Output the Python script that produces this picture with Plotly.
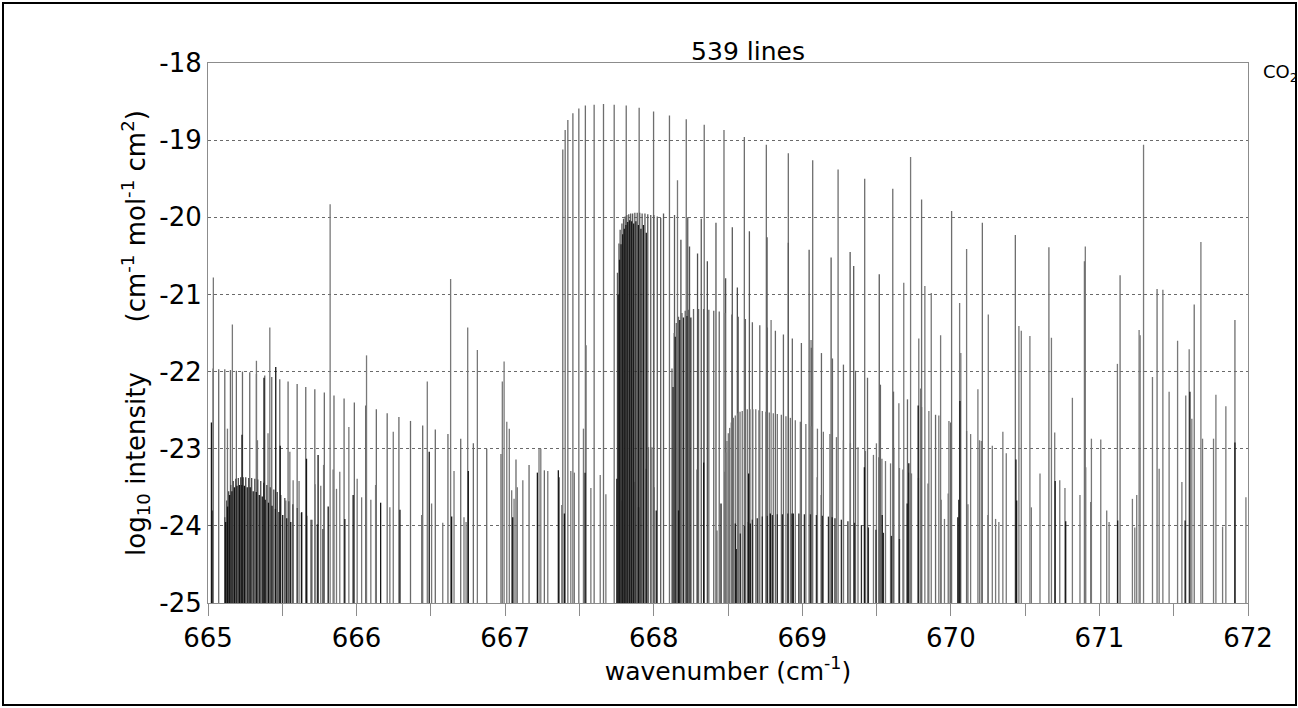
import plotly.graph_objects as go

# ---------------- data: wavenumber (cm-1) and log10 intensity ----------------
main_wn = [667.388, 667.404, 667.422, 667.456, 667.496, 667.540, 667.599, 667.662, 667.734,
           667.815, 667.902, 667.999, 668.106, 668.219, 668.340, 668.473, 668.610, 668.758,
           668.906, 669.070, 669.241, 669.420, 669.609, 669.803, 670.005, 670.212, 670.434,
           670.660, 670.899, 671.139, 671.388, 671.638, 671.912]
main_val = [-19.12, -18.87, -18.74, -18.65, -18.59, -18.55, -18.54, -18.53, -18.54,
            -18.55, -18.58, -18.63, -18.68, -18.73, -18.80, -18.87, -18.96, -19.06,
            -19.17, -19.26, -19.38, -19.50, -19.63, -19.77, -19.92, -20.07, -20.23,
            -20.39, -20.57, -20.75, -20.93, -21.13, -21.33]

b_wn = [667.756, 667.766, 667.774, 667.786, 667.797, 667.808, 667.819, 667.832, 667.845,
        667.858, 667.873, 667.889, 667.906, 667.922, 667.941, 667.960, 667.980, 668.001,
        668.024, 668.047, 668.066, 668.140, 668.229, 668.320, 668.419, 668.529, 668.644,
        668.763, 668.906, 669.046, 669.194, 669.322, 669.346, 669.518]
b_val = [-20.72, -20.34, -20.16, -20.08, -20.02, -19.99, -19.97, -19.96, -19.95,
         -19.95, -19.94, -19.94, -19.94, -19.95, -19.95, -19.96, -19.97, -19.97,
         -19.99, -20.01, -19.95, -19.97, -20.00, -20.02, -20.07, -20.13, -20.18,
         -20.26, -20.33, -20.42, -20.52, -20.45, -20.63, -20.74]

b2_wn = [668.183, 668.241, 668.295, 668.361, 668.484, 668.563]
b2_val = [-20.29, -20.38, -20.47, -20.57, -20.79, -20.91]

bdark_wn = [667.761, 667.770, 667.780, 667.791, 667.802, 667.813, 667.825, 667.838, 667.851,
            667.865, 667.880, 667.897, 667.914, 667.931, 667.950]
bdark_val = [-21.00, -20.55, -20.35, -20.22, -20.15, -20.10, -20.06, -20.04, -20.05,
             -20.08, -20.05, -20.10, -20.15, -20.10, -20.20]

c_wn = [665.034, 665.072, 665.113, 665.151, 665.191, 665.232, 665.281, 665.326, 665.382,
        665.429, 665.483, 665.539, 665.600, 665.658, 665.719, 665.783, 665.848, 665.916,
        665.985, 666.061, 666.133, 666.206, 666.285, 666.363, 666.445, 666.530, 666.615,
        666.701, 666.786, 666.876, 666.972, 667.073, 667.161, 667.264]
c_val = [-21.96, -21.97, -21.97, -21.98, -21.99, -22.00, -22.01, -22.03, -22.05,
         -22.07, -22.10, -22.13, -22.16, -22.20, -22.23, -22.27, -22.31, -22.35,
         -22.40, -22.44, -22.49, -22.54, -22.59, -22.64, -22.70, -22.75, -22.81,
         -22.87, -22.93, -23.00, -23.07, -23.14, -23.21, -23.28]

d_wn = [665.113, 665.126, 665.139, 665.153, 665.170, 665.187, 665.204, 665.220, 665.237,
        665.254, 665.274, 665.294, 665.315, 665.335, 665.355, 665.375, 665.396, 665.419,
        665.443, 665.466, 665.490, 665.517, 665.544, 665.571, 665.601, 665.631, 665.665,
        665.699, 665.736, 665.773]
d_val = [-23.89, -23.67, -23.55, -23.47, -23.42, -23.39, -23.38, -23.37, -23.37,
         -23.37, -23.38, -23.38, -23.39, -23.40, -23.42, -23.44, -23.47, -23.50,
         -23.53, -23.56, -23.60, -23.64, -23.68, -23.72, -23.77, -23.82, -23.87,
         -23.92, -23.98, -24.04]

d2_wn = [665.119, 665.132, 665.146, 665.161, 665.178, 665.195, 665.212, 665.228, 665.245,
         665.264, 665.284, 665.304, 665.325, 665.345, 665.365, 665.385, 665.407, 665.431,
         665.454, 665.478, 665.503, 665.530, 665.557]
d2_val = [-23.95, -23.75, -23.60, -23.55, -23.50, -23.48, -23.47, -23.47, -23.48,
          -23.50, -23.50, -23.55, -23.56, -23.60, -23.62, -23.66, -23.70, -23.74,
          -23.78, -23.82, -23.86, -23.90, -23.95]

f_wn = [668.123, 668.138, 668.152, 668.167, 668.190, 668.212, 668.235, 668.268, 668.302,
        668.336, 668.371, 668.404, 668.441, 668.482, 668.526, 668.569, 668.617, 668.664,
        668.714, 668.765, 668.819, 668.873, 668.933, 668.994, 669.061, 669.129, 669.203,
        669.277, 669.358, 669.439, 669.526, 669.614, 669.708, 669.803, 669.897, 669.998,
        670.106]
f_val = [-21.96, -21.50, -21.37, -21.29, -21.24, -21.21, -21.20, -21.19, -21.19,
         -21.19, -21.20, -21.21, -21.22, -21.24, -21.26, -21.29, -21.32, -21.36,
         -21.40, -21.43, -21.47, -21.52, -21.57, -21.63, -21.69, -21.76, -21.83,
         -21.91, -21.99, -22.08, -22.17, -22.26, -22.36, -22.46, -22.56, -22.66,
         -22.77]

fdark_wn = [668.130, 668.145, 668.175, 668.200, 668.224, 668.250]
fdark_val = [-22.20, -21.55, -21.33, -21.30, -21.28, -21.30]

g_wn = [668.478, 668.485, 668.493, 668.502, 668.511, 668.522, 668.536, 668.549, 668.565,
        668.581, 668.596, 668.613, 668.630, 668.648, 668.667, 668.687, 668.708, 668.731,
        668.755, 668.778, 668.805, 668.832, 668.859, 668.890, 668.920, 668.953, 668.987,
        669.024, 669.061, 669.102, 669.142, 669.186, 669.230, 669.277, 669.324, 669.375,
        669.425, 669.479, 669.536, 669.594, 669.654, 669.715, 669.782, 669.846]
g_val = [-23.30, -23.05, -22.90, -22.80, -22.73, -22.66, -22.60, -22.57, -22.54,
         -22.52, -22.51, -22.50, -22.49, -22.49, -22.49, -22.49, -22.50, -22.51,
         -22.52, -22.53, -22.54, -22.55, -22.56, -22.58, -22.60, -22.63, -22.65,
         -22.68, -22.71, -22.74, -22.78, -22.81, -22.85, -22.89, -22.93, -22.98,
         -23.03, -23.08, -23.13, -23.19, -23.25, -23.31, -23.38, -23.45]

h_wn = [668.556, 668.583, 668.610, 668.637, 668.664, 668.697, 668.731, 668.765, 668.799,
        668.832, 668.866, 668.903, 668.940, 668.977, 669.014, 669.055, 669.095, 669.135,
        669.176, 669.220, 669.263, 669.307, 669.351, 669.398, 669.445, 669.496, 669.546,
        669.600, 669.654]
h_val = [-24.30, -24.10, -24.00, -23.95, -23.92, -23.90, -23.88, -23.87, -23.86,
         -23.85, -23.85, -23.84, -23.84, -23.84, -23.85, -23.85, -23.86, -23.87,
         -23.88, -23.90, -23.92, -23.94, -23.96, -23.99, -24.02, -24.05, -24.09,
         -24.13, -24.17]

s_gray_wn = [665.036, 665.131, 665.164, 665.326, 665.333, 665.404, 665.416, 665.524, 665.551,
             665.573, 665.613, 665.692, 665.721, 665.759, 665.778, 665.822, 665.842, 665.865,
             665.887, 665.948, 666.004, 666.034, 666.067, 666.096, 666.128, 666.224, 666.247,
             666.438, 666.476, 666.505, 666.580, 666.633, 666.656, 666.723, 666.737, 666.748,
             666.813, 666.981, 666.993, 667.011, 667.028, 667.044, 667.060, 667.082, 667.119,
             667.228, 667.240, 667.287, 667.365, 667.381, 667.442, 667.466, 667.527, 667.545,
             667.577, 667.640, 667.678, 667.786, 667.871, 667.949, 667.965, 667.988, 668.003,
             668.160, 668.291, 668.426, 668.790, 669.059, 669.100, 669.127, 669.499, 669.515,
             669.650, 669.560, 669.616, 669.677, 669.683, 669.729, 669.735, 669.784, 669.796,
             669.825, 669.852, 669.868, 669.919, 669.931, 669.935, 669.957, 669.982, 669.987,
             670.059, 670.067, 670.106, 670.115, 670.133, 670.182, 670.193, 670.205, 670.249,
             670.252, 670.279, 670.301, 670.323, 670.350, 670.373, 670.458, 670.474, 670.532,
             670.542, 670.600, 670.677, 670.699, 670.733, 670.768, 670.818, 670.869, 670.905,
             670.908, 670.941, 670.946, 671.009, 671.049, 671.065, 671.121, 671.222, 671.238,
             671.251, 671.267, 671.274, 671.297, 671.357, 671.402, 671.427, 671.469, 671.526,
             671.555, 671.581, 671.604, 671.622, 671.683, 671.694, 671.768, 671.784, 671.829,
             671.851, 671.986]
s_gray_val = [-20.78, -22.74, -21.39, -21.86, -22.89, -22.80, -21.43, -23.67, -23.04,
              -23.41, -23.42, -23.92, -23.46, -23.48, -23.21, -19.83, -23.27, -23.52,
              -23.30, -22.72, -23.39, -23.63, -21.79, -23.66, -23.47, -23.76, -22.78,
              -23.86, -22.13, -23.71, -23.96, -20.80, -23.29, -23.89, -23.95, -21.43,
              -21.72, -22.13, -21.87, -22.65, -22.74, -23.54, -23.65, -23.50, -23.41,
              -23.00, -23.00, -23.29, -23.37, -23.73, -23.29, -23.31, -22.74, -21.66,
              -23.51, -23.34, -23.59, -23.67, -23.43, -23.26, -22.98, -22.98, -23.50,
              -19.52, -23.27, -24.06, -21.33, -21.59, -23.37, -23.60, -22.93, -23.11,
              -22.41, -23.16, -23.00, -23.27, -20.85, -19.22, -23.32, -21.57, -22.22,
              -20.89, -22.51, -20.98, -22.57, -21.53, -23.66, -23.91, -23.58, -22.64,
              -21.11, -21.76, -20.41, -23.72, -22.81, -22.23, -22.89, -22.90, -23.86,
              -21.26, -22.96, -23.91, -23.95, -22.78, -23.06, -21.41, -21.47, -21.54,
              -23.76, -23.32, -21.56, -22.79, -23.41, -23.51, -22.34, -23.60, -20.38,
              -23.24, -23.69, -22.87, -22.88, -23.80, -23.95, -21.90, -23.65, -24.02,
              -23.60, -21.46, -21.53, -19.06, -22.07, -23.26, -20.94, -22.26, -21.60,
              -23.43, -22.31, -21.71, -22.61, -20.32, -22.87, -22.87, -22.30, -24.01,
              -22.45, -23.63]

s_dark_wn = [665.023, 665.027, 665.229, 665.377, 665.456, 665.486, 665.629, 665.663, 665.741,
             665.809, 665.921, 665.977, 666.162, 666.292, 666.489, 666.640, 666.752, 667.051,
             667.217, 667.358, 667.399, 667.538, 667.752, 667.898, 668.017, 668.167, 668.336,
             668.453, 668.549, 668.639, 668.650, 668.785, 668.931, 669.201, 669.418, 669.538,
             669.706, 669.717, 669.780, 670.047, 670.054, 670.061, 670.438, 670.443, 670.702,
             670.773, 671.123, 671.577, 671.609, 671.912]
s_dark_val = [-22.66, -23.80, -22.82, -22.08, -21.94, -22.96, -23.83, -23.13, -23.08,
              -23.75, -23.91, -23.60, -23.70, -23.79, -23.04, -23.88, -23.29, -23.89,
              -23.31, -23.28, -23.84, -23.31, -23.39, -23.76, -23.80, -23.80, -23.18,
              -23.71, -23.97, -23.32, -23.97, -23.84, -23.84, -23.89, -23.24, -23.86,
              -23.71, -23.19, -22.44, -23.89, -23.66, -22.38, -23.14, -23.67, -23.42,
              -23.94, -23.93, -23.93, -22.26, -22.92]

y_ticks = [-25, -24, -23, -22, -21, -20, -19, -18]
x_ticks = [665, 666, 667, 668, 669, 670, 671, 672]
BASE = -25


def sticks(wn, val):
    xs, ys = [], []
    for w, v in zip(wn, val):
        xs += [w, w, None]
        ys += [BASE, v, None]
    return xs, ys


groups = [
    (main_wn, main_val, '#6e6e6e'),
    (c_wn, c_val, '#6a6a6a'),
    (s_gray_wn, s_gray_val, '#787878'),
    (b_wn, b_val, '#5a5a5a'),
    (b2_wn, b2_val, '#505050'),
    (f_wn, f_val, '#666666'),
    (g_wn, g_val, '#747474'),
    (d_wn, d_val, '#4a4a4a'),
    (bdark_wn, bdark_val, '#1a1a1a'),
    (fdark_wn, fdark_val, '#262626'),
    (h_wn, h_val, '#2c2c2c'),
    (d2_wn, d2_val, '#121212'),
    (s_dark_wn, s_dark_val, '#161616'),
]

fig = go.Figure()
for wn, val, col in groups:
    xs, ys = sticks(wn, val)
    fig.add_trace(go.Scatter(x=xs, y=ys, mode='lines',
                             line=dict(color=col, width=1.3),
                             hoverinfo='skip', showlegend=False))

FONT = 'DejaVu Sans, Liberation Sans, Arial, sans-serif'
SP = '&nbsp;' * 6

fig.update_layout(
    width=1298, height=708,
    margin=dict(l=208, r=50, t=63, b=105),
    plot_bgcolor='white', paper_bgcolor='white',
    showlegend=False,
    font=dict(family=FONT, color='black', size=24),
    title=dict(text='539 lines', x=(748 - 208) / 1040, xref='paper', xanchor='center',
               y=1 - 51 / 708, yref='container', yanchor='middle',
               font=dict(size=25, family=FONT, color='black')),
    xaxis=dict(range=[665, 672], tickvals=x_ticks,
               ticktext=['%d' % t for t in x_ticks],
               ticks='outside', ticklen=12, tickcolor='#8c8c8c', tickwidth=1,
               minor=dict(dtick=0.5, tick0=665, ticks='outside', ticklen=12,
                          tickcolor='#8c8c8c', tickwidth=1, showgrid=False),
               showline=True, linecolor='#8c8c8c', linewidth=1, mirror=True,
               showgrid=False, zeroline=False,
               tickfont=dict(size=26, family=FONT, color='black'),
               title=dict(text='wavenumber (cm<sup>-1</sup>)', standoff=6,
                          font=dict(size=25, family=FONT, color='black'))),
    yaxis=dict(range=[-25, -18], tickvals=y_ticks,
               ticktext=['%d' % t for t in y_ticks],
               ticks='', showline=True, linecolor='#8c8c8c', linewidth=1, mirror=True,
               showgrid=True, gridcolor='#6a6a6a', gridwidth=1, griddash='dot',
               zeroline=False,
               tickfont=dict(size=26, family=FONT, color='black'),
               title=dict(text='log<sub>10</sub> intensity' + SP + '(cm<sup>-1</sup> mol<sup>-1</sup> cm<sup>2</sup>)',
                          standoff=6,
                          font=dict(size=26, family=FONT, color='black'))),
)

fig.add_annotation(text='CO<sub>2</sub>', xref='paper', yref='paper',
                   x=(1261 - 208) / 1040, y=(603 - 73) / 540,
                   xanchor='left', yanchor='middle', showarrow=False,
                   font=dict(size=18, family=FONT, color='black'))

fig.add_shape(type='rect', xref='paper', yref='paper',
              x0=(3 - 208) / 1040, x1=(1296 - 208) / 1040,
              y0=(603 - 705) / 540, y1=(603 - 3) / 540,
              line=dict(color='black', width=2), fillcolor='rgba(0,0,0,0)')

fig.write_html('out.html')
